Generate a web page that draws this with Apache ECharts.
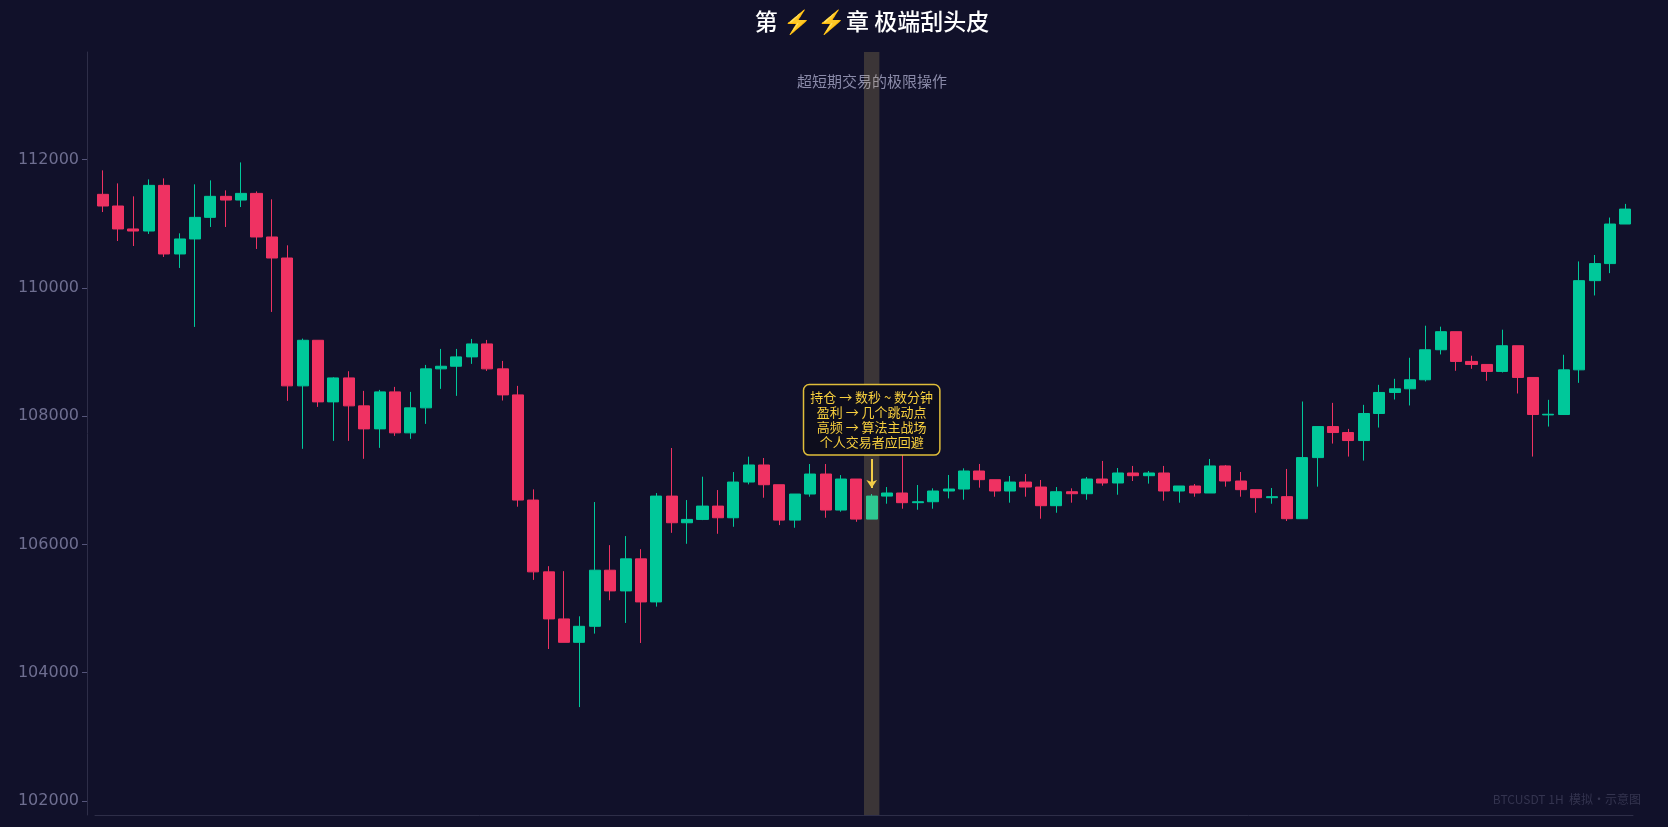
<!DOCTYPE html>
<html><head><meta charset="utf-8">
<script src="https://cdn.jsdelivr.net/npm/echarts@6/dist/echarts.min.js"></script>
<style>html,body{margin:0;padding:0;background:#11112a;}#c{width:1668px;height:827px;}</style>
</head><body><div id="c"></div>
<script>
const categories = Array.from({length:100}, (_, i) => 'H' + (i + 1));
const opens  = [111460,111278,110920,110888,111600,110530,110764,111101,111429,111371,111475,110795,110467,108473,109184,108223,108597,108161,107802,108379,107740,108130,108738,108779,108925,109127,108738,108332,106692,105572,104838,104473,104723,105598,105275,105775,105103,106754,106338,106390,106598,106416,106973,107239,106931,106379,106786,107098,106536,107020,106395,106754,106802,106651,106666,106833,106864,107145,107010,106833,106973,106895,106604,106822,106791,107020,106958,107114,107072,107114,106833,106911,106802,107224,106989,106854,106729,106745,106401,107354,107838,107745,107620,108042,108370,108427,108568,109036,109318,108854,108807,108698,109099,108604,108020,108026,108723,110114,110380,110997];
const closes = [111278,110920,110888,111600,110530,110764,111101,111429,111371,111475,110795,110467,108473,109184,108223,108597,108161,107802,108379,107740,108130,108738,108779,108925,109127,108738,108332,106692,105572,104838,104473,104723,105598,105275,105775,105103,106754,106338,106390,106598,106416,106973,107239,106931,106379,106786,107098,106536,107020,106395,106754,106802,106651,106666,106833,106864,107145,107010,106833,106973,106895,106604,106822,106791,107020,106958,107114,107072,107114,106833,106911,106802,107224,106989,106854,106729,106745,106401,107354,107838,107745,107620,108042,108370,108427,108568,109036,109318,108854,108807,108698,109099,108604,108026,108030,108723,110114,110380,110997,111230];
const highs  = [111834,111631,111429,111693,111709,110852,111616,111678,111522,111958,111506,111382,110665,109210,109184,108608,108701,108395,108410,108457,108379,108800,109049,109049,109205,109189,108862,108473,106859,105661,105583,104879,106661,105989,106130,105926,106801,107504,106692,107056,106848,107129,107369,107348,106931,106786,107254,107254,107082,107020,106786,106895,107406,106927,106875,107083,107187,107255,107010,107067,107098,107005,106895,106875,107052,107302,107192,107224,107145,107224,106911,106942,107333,107239,107130,106854,106880,107177,108229,107838,108208,107802,108177,108489,108583,108911,109411,109396,109318,108943,108807,109349,109099,108604,108255,108958,110414,110514,111098,111311];
const lows   = [111184,110732,110654,110842,110483,110312,109392,110951,110951,111262,110608,109626,108239,107491,108145,107615,107615,107335,107506,107693,107647,107880,108426,108317,108816,108706,108244,106588,105447,104369,104473,103463,104609,105130,104775,104463,105030,106181,106010,106379,106166,106275,106937,106728,106301,106260,106744,106416,106510,106353,106395,106635,106557,106541,106557,106718,106697,106885,106744,106651,106744,106401,106494,106651,106697,106916,106775,106989,106948,106682,106651,106744,106802,106901,106744,106494,106635,106365,106401,106901,107573,107370,107307,107823,108260,108167,108542,108963,108708,108739,108552,108682,108354,107370,107838,108505,108520,109883,110231,111072];
const yTicks = [102000,104000,106000,108000,110000,112000];
const focusIndex = 50;
const noteLines = ['持仓 → 数秒 ~ 数分钟','盈利 → 几个跳动点','高频 → 算法主战场','个人交易者应回避'];
const titleText = '第 ⚡ ⚡章 极端刮头皮';
const subText = '超短期交易的极限操作';
const markText = 'BTCUSDT 1H  模拟·示意图';

const yMin = 101780, yMax = 113680;
const kdata = categories.map((_, i) => [opens[i], closes[i], lows[i], highs[i]]);
const hl = categories.map((_, i) => i === focusIndex ? yMax : '-');
const chart = echarts.init(document.getElementById('c'));
chart.setOption({
  backgroundColor:'#11112a',
  animation:false,
  graphic:[
    {type:'text', x:872, y:10, style:{text:titleText, fill:'#ffffff', font:'500 23px "Noto Sans CJK SC", sans-serif', textAlign:'center'}},
    {type:'text', x:872, y:74, style:{text:subText, fill:'#8a8aa8', font:'15px "Noto Sans CJK SC", sans-serif', textAlign:'center'}},
    {type:'text', x:1641, y:793, style:{text:markText, fill:'#34344f', font:'12px "Noto Sans CJK SC", sans-serif', textAlign:'right'}}
  ],
  grid:{left:95, right:35, top:52, bottom:12},
  xAxis:{type:'category', data:categories, boundaryGap:true,
    axisLine:{show:true, lineStyle:{color:'#2e2e48'}}, axisTick:{show:false}, axisLabel:{show:false}, splitLine:{show:false}},
  yAxis:{type:'value', min:yMin, max:yMax, offset:8,
    axisLine:{show:true, lineStyle:{color:'#2e2e48'}},
    axisTick:{show:true, customValues:yTicks, length:5, lineStyle:{color:'#55557a'}},
    axisLabel:{customValues:yTicks, formatter:v => String(v), color:'#6e6e90', fontSize:16, fontFamily:'"DejaVu Sans", sans-serif', margin:8},
    splitLine:{show:false}},
  series:[
    {type:'candlestick', data:kdata, barWidth:'75%',
     itemStyle:{color:'#00c89a', color0:'#ef3262', borderColor:'#00c89a', borderColor0:'#ef3262', borderWidth:1},
     markPoint:{symbol:'rect', symbolSize:1, itemStyle:{color:'transparent'},
       data:[{coord:[focusIndex, 107943], label:{show:true, position:'inside', formatter:noteLines.join('\n'),
         color:'#f7cf3e', fontSize:13, lineHeight:15, fontFamily:'"Noto Sans CJK SC", sans-serif',
         backgroundColor:'#0d0d1c', borderColor:'#e0be3a', borderWidth:1.5, borderRadius:5, padding:[5,6,4,6]}}]},
     markLine:{silent:true, symbol:['none','arrow'], symbolSize:[8,8], label:{show:false},
       lineStyle:{color:'#f7cf3e', width:2, type:'solid'},
       data:[[{coord:[focusIndex,107333]},{coord:[focusIndex,106880]}]]}
    },
    {type:'bar', data:hl, barWidth:'100%', z:5, silent:true,
     itemStyle:{color:'rgba(232,200,110,0.2)'}}
  ]
});
</script></body></html>
